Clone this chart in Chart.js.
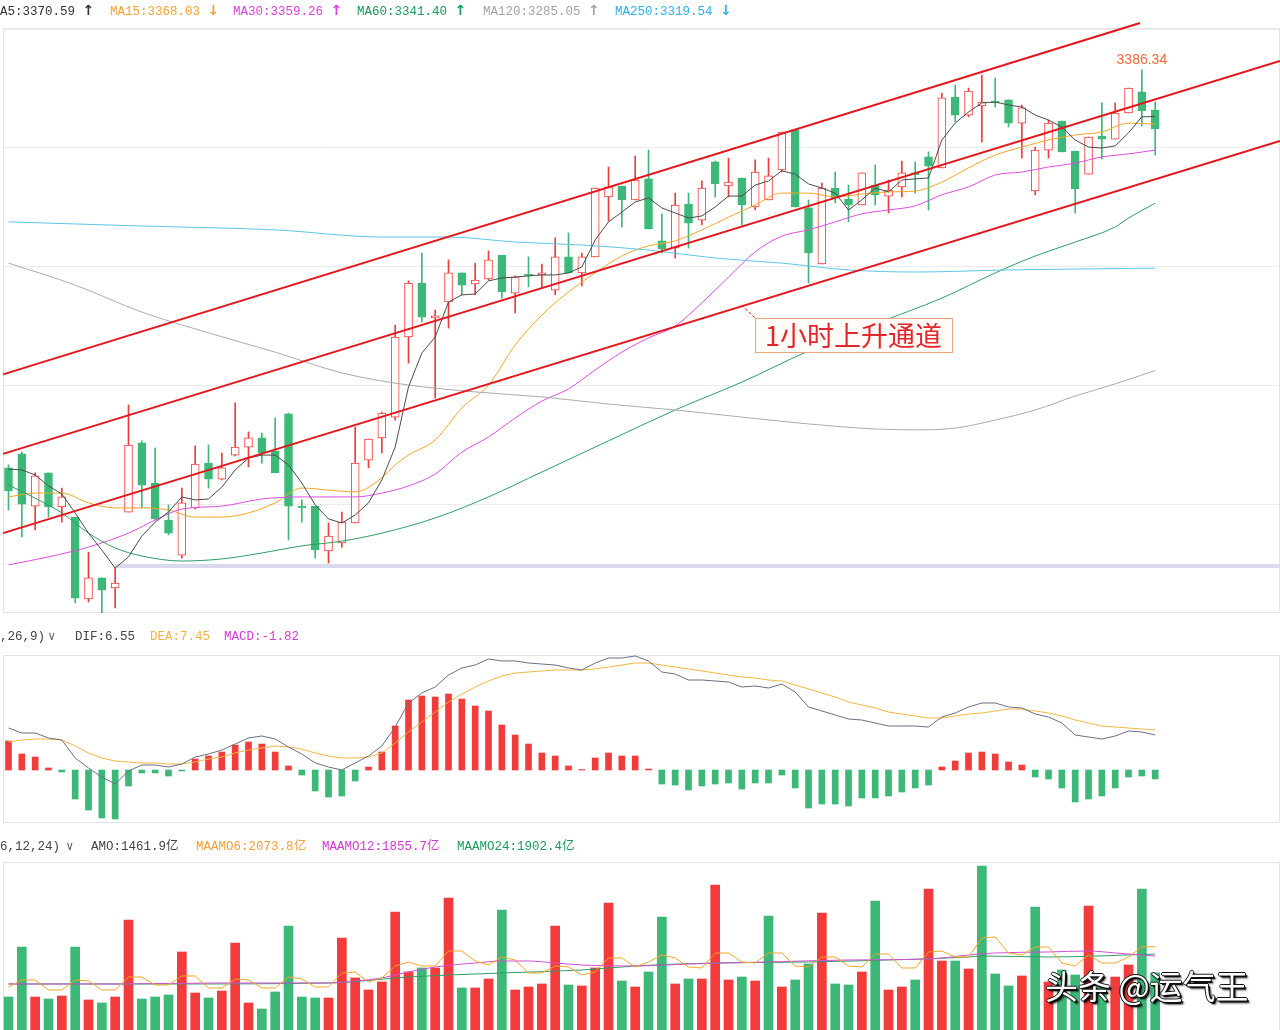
<!DOCTYPE html>
<html lang="zh-CN">
<head>
<meta charset="utf-8">
<title>1小时上升通道</title>
<script src="https://cdn.jsdelivr.net/npm/chart.js@4.4.1/dist/chart.umd.min.js"></script>
<style>
  html, body { margin:0; padding:0; background:#fff; }
  body { width:1280px; height:1030px; overflow:hidden; position:relative; }
  canvas { position:absolute; left:0; }
  .leg { position:absolute; left:0; width:1280px; height:16px; font-family:"Liberation Mono","DejaVu Sans Mono",monospace; font-size:12.5px; line-height:16px; white-space:nowrap; z-index:2; }
  .leg span { position:absolute; top:0; }
  .leg b { font-family:"DejaVu Sans",sans-serif; font-size:14px; font-weight:bold; }
  #wm { position:absolute; left:1045px; top:964px; font-family:"Noto Sans CJK SC",sans-serif; font-size:33px; line-height:42px; color:#fff; z-index:3; white-space:nowrap;
        text-shadow: 1px 0 #111, -1px 0 #111, 0 1px #111, 0 -1px #111, 2px 2px 1px #000, 3px 3px 2px rgba(0,0,0,.5); }
</style>
</head>
<body>
<canvas id="cMain" width="1280" height="620" style="top:0"></canvas>
<canvas id="cMacd" width="1280" height="190" style="top:640px"></canvas>
<canvas id="cVol" width="1280" height="192" style="top:848px"></canvas>

<div class="leg" style="top:2px">
  <span style="left:0;color:#333">A5:3370.59 <b>↑</b></span>
  <span style="left:110px;color:#f5a033">MA15:3368.03 <b>↓</b></span>
  <span style="left:233px;color:#dd3fdd">MA30:3359.26 <b>↑</b></span>
  <span style="left:357px;color:#179c5a">MA60:3341.40 <b>↑</b></span>
  <span style="left:483px;color:#a3a3a3">MA120:3285.05 <b>↑</b></span>
  <span style="left:615px;color:#2cb3e6">MA250:3319.54 <b>↓</b></span>
</div>
<div class="leg" style="top:629px">
  <span style="left:0;color:#444">,26,9)</span>
  <span style="left:48px;color:#666">∨</span>
  <span style="left:75px;color:#444">DIF:6.55</span>
  <span style="left:150px;color:#f3b340">DEA:7.45</span>
  <span style="left:224px;color:#d43ad4">MACD:-1.82</span>
</div>
<div class="leg" style="top:839px">
  <span style="left:0;color:#444">6,12,24)</span>
  <span style="left:66px;color:#666">∨</span>
  <span style="left:91px;color:#444">AMO:1461.9亿</span>
  <span style="left:196px;color:#f5a033">MAAMO6:2073.8亿</span>
  <span style="left:322px;color:#d43ad4">MAAMO12:1855.7亿</span>
  <span style="left:457px;color:#1a9d5d">MAAMO24:1902.4亿</span>
</div>
<div id="wm">头条 @运气王</div>

<script>
// ---------------- DATA ----------------
const opens = [
3252.2,3256.9,3239.3,3250.5,3239.0,3235.6,3208.0,3215.1,3211.7,3237.3,
3260.6,3247.1,3234.6,3222.8,3238.7,3253.8,3248.4,3256.5,3259.2,3262.3,
3257.9,3270.4,3239.3,3239.3,3224.2,3226.9,3233.6,3254.8,3262.3,3269.3,
3296.3,3314.5,3302.7,3308.1,3317.9,3314.2,3315.9,3323.9,3311.1,3317.5,
3317.2,3312.1,3323.3,3317.9,3323.3,3343.5,3347.2,3342.5,3349.6,3328.7,
3326.3,3341.1,3335.7,3355.3,3347.2,3349.9,3340.1,3342.5,3352.6,3366.1,
3339.8,3320.9,3346.5,3342.8,3340.8,3347.5,3343.8,3346.9,3351.6,3357.0,
3353.3,3377.2,3371.1,3374.2,3375.8,3376.2,3368.4,3345.5,3359.3,3369.1,
3359.0,3351.2,3364.0,3363.0,3371.8,3378.9,3372.8];
const highs = [
3253.2,3257.5,3250.5,3250.5,3245.4,3235.6,3223.8,3215.1,3218.4,3273.4,
3261.3,3258.9,3239.7,3245.4,3259.6,3259.9,3257.2,3274.1,3264.3,3263.9,
3269.0,3270.7,3241.4,3239.3,3233.6,3237.3,3266.0,3261.9,3271.0,3300.3,
3315.2,3324.6,3305.4,3322.3,3317.9,3321.2,3325.3,3323.9,3316.9,3323.3,
3320.9,3329.7,3331.4,3324.6,3346.5,3353.6,3347.2,3357.3,3359.3,3337.8,
3344.8,3344.8,3348.9,3355.6,3356.6,3349.9,3356.0,3356.6,3365.4,3366.1,
3342.5,3348.2,3351.9,3347.5,3351.6,3354.3,3349.2,3355.6,3355.3,3358.7,
3378.5,3381.2,3380.2,3384.6,3383.6,3376.2,3374.5,3360.3,3369.4,3369.1,
3359.0,3363.7,3375.2,3375.2,3380.2,3386.34,3375.5];
const lows = [
3238.0,3228.9,3231.3,3235.6,3233.9,3206.7,3207.0,3203.3,3205.0,3237.3,
3238.7,3234.6,3229.6,3221.8,3238.3,3245.4,3248.1,3256.2,3252.5,3253.8,
3250.5,3227.9,3233.9,3221.8,3220.1,3225.5,3233.6,3252.2,3257.2,3268.3,
3287.5,3301.4,3275.7,3299.3,3310.5,3310.5,3315.5,3309.4,3304.4,3313.2,
3313.2,3310.5,3317.9,3313.5,3323.3,3335.4,3333.4,3342.5,3332.7,3324.6,
3322.9,3326.3,3334.1,3343.5,3343.5,3334.1,3339.1,3342.5,3351.9,3340.1,
3314.5,3320.9,3341.5,3335.1,3340.8,3340.8,3338.1,3343.5,3344.8,3339.1,
3353.3,3368.8,3370.5,3362.0,3373.8,3367.1,3356.6,3344.2,3356.6,3358.7,
3338.1,3351.2,3356.3,3363.0,3371.8,3367.4,3357.6];
const closes = [
3244.4,3240.0,3249.5,3239.0,3242.4,3208.3,3215.1,3211.0,3213.4,3259.9,
3246.4,3235.0,3230.2,3240.4,3253.5,3248.4,3252.2,3259.2,3262.3,3257.2,
3250.5,3239.3,3238.7,3224.5,3229.2,3233.9,3253.8,3261.9,3270.7,3296.3,
3314.5,3303.0,3303.4,3317.9,3313.8,3315.5,3322.3,3311.5,3316.5,3316.9,
3317.9,3323.3,3317.9,3323.3,3346.5,3346.9,3342.5,3349.2,3332.7,3326.0,
3340.8,3334.7,3346.5,3347.9,3348.5,3340.8,3351.9,3350.6,3365.4,3340.1,
3324.6,3346.5,3343.2,3340.8,3351.6,3344.2,3345.8,3351.6,3350.9,3353.9,
3376.9,3371.1,3379.2,3375.5,3375.2,3368.4,3373.5,3359.3,3368.4,3358.7,
3346.2,3363.7,3363.0,3371.8,3380.2,3372.5,3366.4];

const ma5 = [
3251.8,3251.5,3249.8,3246.1,3243.4,3237.0,3230.2,3224.5,3218.4,3222.2,
3229.2,3233.9,3237.3,3242.4,3241.4,3241.7,3245.7,3251.5,3255.5,3256.5,
3256.5,3253.2,3247.1,3239.7,3235.0,3233.6,3236.3,3240.4,3248.1,3259.2,
3279.5,3290.9,3296.3,3308.1,3310.5,3310.8,3315.2,3316.2,3316.5,3316.9,
3317.2,3317.2,3317.9,3319.9,3329.0,3335.1,3338.4,3341.8,3343.2,3339.8,
3338.1,3336.4,3337.1,3340.1,3343.8,3343.8,3347.5,3348.9,3352.3,3351.2,
3347.9,3346.5,3344.8,3339.1,3342.5,3346.5,3345.2,3349.2,3349.6,3349.9,
3362.7,3368.4,3372.1,3375.2,3375.5,3374.5,3373.8,3371.1,3369.4,3367.1,
3362.7,3360.3,3360.0,3360.7,3365.1,3370.5,3370.6];
// [index, value] readings
const ma15 = [[0,3242.4],[2,3243.7],[4,3243.7],[6,3240.4],[8,3238.7],[10,3238.7],[12,3238.0],[14,3235.6],[16,3235.6],[18,3237.0],[20,3240.4],[22,3245.4],[24,3244.7],[26,3244.1],[28,3248.8],[29,3253.2],[30,3256.5],[32,3261.6],[34,3272.4],[36,3280.1],[38,3293.6],[40,3303.7],[42,3311.5],[44,3317.9],[46,3323.6],[48,3327.0],[50,3328.7],[52,3332.4],[54,3336.7],[56,3340.8],[58,3344.8],[60,3344.8],[62,3343.5],[64,3344.5],[66,3345.2],[68,3345.5],[70,3348.5],[72,3353.3],[74,3357.6],[76,3360.3],[78,3362.7],[80,3364.4],[82,3365.4],[84,3368.4],[86,3368.0]];
const ma30 = [[0,3219.5],[3,3222.2],[6,3225.5],[9,3230.2],[11,3234.6],[13,3238.3],[16,3239.3],[19,3241.7],[22,3242.4],[26,3242.4],[28,3243.7],[30,3246.1],[32,3250.1],[34,3257.5],[36,3262.6],[38,3269.0],[40,3274.7],[42,3278.8],[44,3285.2],[46,3291.2],[48,3296.0],[50,3300.0],[52,3307.8],[54,3316.5],[56,3325.0],[58,3330.3],[60,3332.4],[62,3335.1],[64,3337.8],[66,3339.1],[68,3340.5],[70,3344.2],[72,3346.9],[74,3350.9],[76,3351.9],[78,3353.6],[80,3354.9],[82,3357.0],[84,3358.0],[86,3359.3]];
const ma60 = [[0,3246.4],[2,3242.0],[4,3237.0],[6,3230.2],[8,3225.2],[10,3222.5],[13,3220.8],[16,3221.5],[19,3223.5],[22,3225.9],[25,3227.5],[28,3230.2],[32,3235.3],[36,3242.4],[40,3250.8],[45,3261.3],[50,3271.7],[55,3281.1],[60,3291.6],[65,3300.7],[70,3309.4],[74,3317.9],[77,3323.6],[80,3328.3],[83,3333.4],[84,3336.4],[86,3341.4]];
const ma120 = [[0,3321.2],[5,3313.8],[10,3304.7],[15,3297.7],[20,3291.2],[25,3284.2],[30,3280.1],[35,3277.8],[40,3276.1],[45,3273.7],[50,3271.7],[55,3269.3],[60,3267.0],[65,3265.3],[68,3265.0],[71,3265.6],[74,3268.3],[77,3271.7],[80,3276.4],[83,3280.5],[86,3285.0]];
const ma250 = [[0,3335.1],[10,3333.7],[20,3332.4],[28,3330.0],[33,3330.0],[38,3328.3],[43,3327.3],[48,3325.6],[53,3322.9],[58,3321.2],[63,3318.9],[68,3318.2],[75,3318.9],[86,3319.5]];

const channelTop = [[-0.41,3283.7],[84.86,3402.1]];
const channelMid = [[-0.41,3256.9],[95.36,3389.3]];
const channelLow = [[-0.41,3230.2],[95.36,3362.4]];
const levelLine  = [[8,3219.1],[95.36,3219.1]];
const priceGrid  = [3240,3280,3320,3360,3400];
const note = { text:'1小时上升通道', anchor:[55.0,3307.1], box:[56.0,3302.7] };

const macd = [
5.92,3.27,2.65,0.41,-0.41,-5.92,-8.16,-9.79,-10.0,-3.26,
-0.61,-0.61,-1.22,-0.2,2.24,2.86,3.67,5.1,5.71,5.3,
3.67,0.82,-1.02,-4.28,-5.51,-5.3,-2.24,0.61,3.67,8.98,
14.28,15.1,14.9,15.5,14.48,13.06,12.04,9.18,7.14,5.3,
3.47,2.86,0.82,0.1,2.45,3.47,2.86,2.86,0.2,-2.86,
-3.06,-4.08,-3.26,-2.86,-2.65,-3.88,-2.65,-2.65,-1.02,-3.67,
-7.75,-6.94,-6.94,-7.34,-5.71,-5.71,-5.3,-4.49,-3.67,-3.06,
0.61,1.84,3.47,3.67,3.26,1.63,1.02,-1.43,-1.84,-3.67,
-6.53,-5.92,-5.3,-3.67,-1.43,-1.22,-1.82];
const dif = [
8.57,7.55,7.55,6.53,6.12,2.45,0.41,-1.43,-2.86,-0.2,
1.02,1.02,0.61,1.22,2.65,3.26,4.08,5.3,6.53,6.94,
6.32,4.69,3.26,1.43,0.61,0,1.43,2.86,4.9,8.77,
13.67,15.71,16.93,19.38,20.81,21.42,22.64,22.24,22.24,21.83,
21.62,21.42,20.81,20.4,21.83,22.85,22.85,23.26,22.24,19.99,
19.58,18.36,18.36,18.16,17.95,16.93,17.14,16.73,17.54,15.91,
12.85,12.04,11.22,10.4,10.2,9.59,8.98,8.98,8.98,8.77,
10.81,11.63,12.85,13.67,13.67,12.85,12.65,11.42,10.81,9.59,
7.14,6.73,6.32,6.94,7.96,7.75,7.14];
const dea = [
5.71,6.12,6.32,6.32,6.12,4.9,3.47,2.45,1.84,1.63,
1.43,1.43,1.22,1.22,1.63,2.24,2.65,3.47,4.08,4.49,
4.9,4.69,4.28,3.47,2.86,2.45,2.45,2.65,3.47,5.51,
7.75,9.79,11.83,13.87,15.5,16.93,18.16,19.18,19.79,19.99,
20.2,20.4,20.4,20.4,20.6,21.01,21.42,21.83,21.83,21.42,
21.01,20.6,20.2,19.79,19.38,18.97,18.77,18.36,18.16,17.34,
16.52,15.71,14.89,13.87,13.26,12.65,11.83,11.42,11.02,10.61,
10.61,11.02,11.42,11.63,12.04,12.44,12.44,12.04,11.63,11.02,
10.2,9.59,8.98,8.77,8.57,8.36,8.16];

const amo = [
893,2068,893,846,917,2068,823,752,893,2703,
846,893,940,1951,987,870,1034,2162,752,611,
1011,2562,893,870,870,2280,1340,1058,1246,2891,
1481,1575,1575,3220,1105,1105,1316,2938,1058,1128,
1199,2562,1175,1152,1575,3102,1269,1128,1481,2773,
1199,1316,1316,3525,1293,1363,1269,2797,1128,1293,
1669,2867,1199,1175,1481,3149,1058,1128,1293,3431,
1739,1739,1551,3972,1434,1152,1387,3008,1246,1528,
1410,3032,1175,1363,1645,3431,1462];
const maamo6 = [
1128,1293,1293,1058,1058,1293,1269,1058,1058,1363,
1363,1175,1175,1387,1387,1105,1105,1316,1293,1105,
1105,1363,1316,1128,1128,1457,1481,1246,1340,1622,
1716,1622,1622,1974,1974,1739,1645,1833,1763,1457,
1457,1622,1598,1410,1481,1810,1810,1598,1716,1880,
1810,1598,1575,1927,1927,1716,1692,1927,1927,1622,
1598,1833,1833,1622,1598,1904,1904,1575,1575,1951,
1974,1833,1833,2280,2303,1927,1880,2068,2068,1692,
1622,1880,1692,1692,1833,2068,2074];
const maamo12 = [[0,1199],[8,1199],[16,1222],[24,1222],[26,1269],[28,1340],[30,1481],[32,1598],[35,1692],[37,1739],[39,1739],[41,1692],[43,1645],[47,1622],[51,1669],[57,1716],[63,1763],[69,1786],[72,1880],[74,1927],[78,1951],[81,1974],[83,1927],[86,1856]];
const maamo24 = [[0,1199],[12,1199],[24,1222],[30,1363],[37,1457],[43,1528],[47,1622],[53,1692],[60,1716],[66,1763],[72,1833],[73,1857],[78,1833],[86,1902]];

// ---------------- STYLE ----------------
const RED = '#f23c3c', GREEN = '#3db878', CH_RED = '#e5151b';
const X_MIN = -0.4125, X_MAX = 95.36;
const idx = opens.map((_, i) => i);
const up = i => closes[i] >= opens[i];
const pts = arr => arr.map(([x, y]) => ({ x, y }));
const seq = arr => arr.map((y, i) => ({ x: i, y }));

const frame = {
  id: 'frame',
  beforeDatasetsDraw(chart) {
    const { ctx, chartArea: a } = chart;
    ctx.save();
    ctx.strokeStyle = '#e4e4e4'; ctx.lineWidth = 1;
    ctx.strokeRect(a.left + 0.5, a.top + 0.5, a.right - a.left - 1, a.bottom - a.top - 1);
    ctx.restore();
  }
};

const annot = {
  id: 'annot',
  afterDatasetsDraw(chart) {
    const { ctx, scales: { x, y } } = chart;
    ctx.save();
    let hi = 0;
    highs.forEach((h, i) => { if (h > highs[hi]) hi = i; });
    ctx.fillStyle = '#ef6a3a';
    ctx.font = '14px "Liberation Sans", Arial, sans-serif';
    ctx.textAlign = 'center'; ctx.textBaseline = 'bottom';
    ctx.fillText(highs[hi].toFixed(2), x.getPixelForValue(hi), y.getPixelForValue(highs[hi]) - 3);

    const ax = x.getPixelForValue(note.anchor[0]), ay = y.getPixelForValue(note.anchor[1]);
    const bx = Math.round(x.getPixelForValue(note.box[0])), by = Math.round(y.getPixelForValue(note.box[1]));
    ctx.strokeStyle = CH_RED; ctx.lineWidth = 1; ctx.setLineDash([3, 2]);
    ctx.beginPath(); ctx.moveTo(ax, ay); ctx.lineTo(bx, by); ctx.stroke();
    ctx.setLineDash([]);
    ctx.font = '27px "Noto Sans CJK SC", sans-serif';
    const w = Math.round(ctx.measureText(note.text).width + 20), h = 34;
    ctx.fillStyle = '#fffbf7'; ctx.fillRect(bx, by, w, h);
    ctx.strokeStyle = '#f0a37c'; ctx.strokeRect(bx + 0.5, by + 0.5, w, h);
    ctx.fillStyle = '#e3262b'; ctx.textAlign = 'left'; ctx.textBaseline = 'middle';
    ctx.fillText(note.text, bx + 10, by + h / 2 + 1);
    ctx.restore();
  }
};

const xScale = { type: 'linear', min: X_MIN, max: X_MAX, display: false, offset: false };
const baseOpts = (pad, yScale) => ({
  responsive: false, animation: false, devicePixelRatio: 1, events: [],
  layout: { padding: pad },
  plugins: { legend: { display: false }, tooltip: { enabled: false } },
  scales: { x: xScale, y: yScale }
});
const line = (data, color, order, extra) => Object.assign({
  type: 'line', data, borderColor: color, borderWidth: 1, pointRadius: 0, tension: 0, order
}, extra || {});
const smooth = { cubicInterpolationMode: 'monotone' };

// ---------------- MAIN CHART ----------------
new Chart(document.getElementById('cMain'), {
  type: 'bar',
  data: {
    datasets: [
      { type: 'bar', data: idx.map(i => ({ x: i, y: [lows[i], highs[i]] })), barThickness: 1, grouped: false,
        backgroundColor: c => c.dataIndex === undefined ? RED : (up(c.dataIndex) ? RED : GREEN), borderWidth: 0, order: 6 },
      { type: 'bar', data: idx.map(i => ({ x: i, y: [opens[i], closes[i]] })), barThickness: 8, grouped: false,
        backgroundColor: c => c.dataIndex === undefined ? '#fff' : (up(c.dataIndex) ? '#ffffff' : GREEN),
        borderColor: c => c.dataIndex === undefined ? RED : (up(c.dataIndex) ? RED : GREEN),
        borderWidth: 1, borderSkipped: false, minBarLength: 1, order: 5 },
      line(pts(levelLine), '#dcd9ee', 8, { borderWidth: 4 }),
      line(pts(ma250), '#5ec6e8', 3, smooth),
      line(pts(ma120), '#ababab', 3, smooth),
      line(pts(ma60), '#2e9e64', 3, smooth),
      line(pts(ma30), '#e04ce0', 3, smooth),
      line(pts(ma15), '#f5a623', 3, smooth),
      line(seq(ma5), '#4a4a4a', 2),
      line(pts(channelTop), CH_RED, 0, { borderWidth: 2, clip: false }),
      line(pts(channelMid), CH_RED, 0, { borderWidth: 2, clip: false }),
      line(pts(channelLow), CH_RED, 0, { borderWidth: 2, clip: false })
    ]
  },
  options: baseOpts({ left: 3, top: 28, right: 0, bottom: 7 }, {
    type: 'linear', min: 3203.28, max: 3400.44, position: 'left', display: true,
    ticks: { display: false }, grid: { color: '#ececec', drawTicks: false }, border: { display: false },
    afterFit: s => { s.width = 0; },
    afterBuildTicks: s => { s.ticks = priceGrid.map(v => ({ value: v })); }
  }),
  plugins: [frame, annot]
});

// ---------------- MACD CHART ----------------
new Chart(document.getElementById('cMacd'), {
  type: 'bar',
  data: {
    datasets: [
      { type: 'bar', data: seq(macd), barThickness: 6, grouped: false,
        backgroundColor: c => c.dataIndex === undefined ? RED : (macd[c.dataIndex] >= 0 ? RED : GREEN), order: 5 },
      line(seq(dea), '#f3b640', 2),
      line(seq(dif), '#6b6f80', 1)
    ]
  },
  options: baseOpts({ left: 3, top: 15, right: 0, bottom: 7 }, { type: 'linear', min: -10.81, max: 23.46, display: false }),
  plugins: [frame]
});

// ---------------- VOLUME CHART ----------------
const volUp = i => i === 0 ? up(0) : closes[i] >= closes[i - 1];
new Chart(document.getElementById('cVol'), {
  type: 'bar',
  data: {
    datasets: [
      { type: 'bar', data: seq(amo), barThickness: 9, grouped: false,
        backgroundColor: c => c.dataIndex === undefined ? RED : (volUp(c.dataIndex) ? RED : GREEN), order: 5 },
      line(pts(maamo24), '#2e9e64', 3, smooth),
      line(pts(maamo12), '#d24fd2', 2, smooth),
      line(seq(maamo6), '#f5a623', 1)
    ]
  },
  options: baseOpts({ left: 3, top: 14, right: 0, bottom: 5 }, { type: 'linear', min: 0, max: 4065, display: false }),
  plugins: [frame]
});
</script>
</body>
</html>
